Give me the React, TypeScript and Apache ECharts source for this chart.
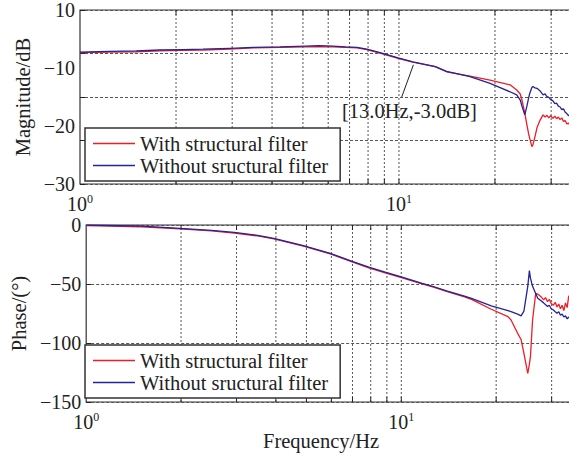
import { useEffect, useRef } from "react";
import * as echarts from "echarts";

const FONT = "'Liberation Serif', 'Times New Roman', serif";

const seriesNames = ["With structural filter", "Without sructural filter"];
const seriesColors = ["#ee1c25", "#23239a"];

// Magnitude response (dB)
const magFreq = [
  1.0, 1.24, 1.5, 1.78, 2.1, 2.43, 2.95, 3.49, 4.24, 5.1, 5.6, 6.2, 6.8, 7.39,
  7.93, 8.72, 9.94, 11.05, 13.0, 14.1, 16.7, 19.3, 22.3, 23.4, 24.0, 24.3, 24.8,
  25.2, 25.5, 25.7, 26.1, 26.3, 26.7, 27.1, 27.7, 28.3, 28.7, 29.1, 29.5, 29.9,
  30.4, 30.8, 31.2, 31.6, 32.0, 32.4, 32.8, 33.2, 33.6, 34.0, 34.5,
];
const magWith = [
  0.2, 0.3, 0.4, 0.6, 0.7, 0.8, 1.0, 1.3, 1.4, 1.5, 1.6, 1.5, 1.4, 1.3,
  0.9, 0.1, -1.1, -2.0, -3.0, -4.2, -5.2, -6.1, -7.2, -8.4, -9.3, -10.7, -13.7,
  -16.5, -18.5, -19.5, -21.4, -21.0, -19.1, -17.0, -15.3, -14.1, -14.6, -14.2, -14.8, -14.3,
  -14.9, -14.4, -15.0, -14.6, -15.2, -14.8, -15.6, -15.4, -16.2, -16.0, -16.7,
];
const magWithout = [
  0.3, 0.5, 0.6, 0.8, 0.9, 1.0, 1.2, 1.4, 1.5, 1.7, 1.8, 1.7, 1.5, 1.4,
  1.0, 0.2, -1.0, -1.9, -3.0, -4.1, -5.3, -6.85, -8.8, -9.5, -10.7, -12.1, -14.1,
  -12.0, -10.2, -9.2, -7.8, -7.6, -7.9, -8.0, -8.6, -9.5, -9.3, -9.9, -10.1, -10.6,
  -10.9, -11.5, -11.4, -12.1, -12.3, -12.9, -12.7, -13.5, -13.8, -14.3, -14.0,
];

// Phase response (degrees)
const phaseFreq = [
  1.0, 1.5, 1.985, 2.5, 2.95, 3.5, 3.94, 4.89, 5.95, 7.02, 7.93, 8.89, 9.94,
  11.65, 12.5, 14.0, 15.87, 16.7, 19.3, 21.8, 22.3, 23.4, 24.0, 24.5, 25.2, 25.5,
  25.7, 26.1, 26.7, 27.1, 27.7, 28.3, 28.7, 29.1, 29.5, 29.9, 30.4, 30.8, 31.2,
  31.6, 32.0, 32.4, 32.8, 33.2, 33.6, 34.0, 34.5,
];
const phaseWith = [
  -0.5, -1.5, -3.3, -5.0, -6.8, -9.3, -11.8, -18.0, -24.5, -31.5, -36.5, -40.5, -44.3,
  -49.9, -52.2, -56.5, -61.0, -63.0, -71.4, -77.7, -80.5, -91.8, -97.0, -108.7, -125.7, -118.0,
  -111.6, -80.5, -57.9, -58.5, -60.5, -63.5, -61.5, -65.0, -63.0, -66.5, -68.0, -65.5, -69.5,
  -67.0, -71.0, -68.0, -72.5, -66.0, -70.0, -60.0, -64.0,
];
const phaseWithout = [
  0.0, -1.0, -2.8, -4.5, -6.3, -8.8, -11.3, -17.5, -24.0, -31.0, -36.0, -40.0, -43.8,
  -49.4, -51.7, -56.0, -60.2, -62.1, -68.6, -72.5, -73.4, -75.5, -77.0, -73.0, -52.0, -38.7,
  -45.0, -52.0, -58.0, -62.0, -64.0, -66.0, -67.5, -69.0, -68.0, -71.0, -72.0, -73.5, -74.8,
  -73.5, -76.5, -75.5, -78.0, -77.0, -79.5, -78.0, -80.5,
];

// Vertical grid frequencies (decade and minor lines)
const gridFreqs = [2, 3, 4, 5, 6, 7, 8, 9, 10, 20, 30];
// Magnitude tick labels, evenly spread down the left edge
const magTickLabels = ["\u221230", "\u221220", "\u221210", "10"];

const annotationText = "[13.0Hz,-3.0dB]";
const arrowTail = [10.2, -10.0];
const arrowHead = [11.1, -2.6];

const zip = (xs: number[], ys: number[]) => xs.map((x, i) => [x, ys[i]]);

const gridLineSeries = (xIdx: number, yMin: number, yMax: number) => ({
  type: "custom",
  xAxisIndex: xIdx,
  yAxisIndex: xIdx,
  silent: true,
  z: 1,
  data: gridFreqs.map((f) => [f, yMin]),
  encode: { x: 0, y: 1 },
  renderItem: (_p: any, api: any) => {
    const f = api.value(0);
    const a = api.coord([f, yMin]);
    const b = api.coord([f, yMax]);
    return {
      type: "group",
      children: [
        {
          type: "line",
          shape: { x1: a[0], y1: a[1], x2: b[0], y2: b[1] },
          style: { stroke: "#555", lineWidth: 1, lineDash: [2, 2] },
        },
        {
          type: "line",
          shape: { x1: a[0], y1: a[1], x2: a[0], y2: a[1] - 5 },
          style: { stroke: "#222", lineWidth: 1 },
        },
        {
          type: "line",
          shape: { x1: b[0], y1: b[1], x2: b[0], y2: b[1] + 5 },
          style: { stroke: "#222", lineWidth: 1 },
        },
      ],
    };
  },
});

const logAxis = (gridIndex: number) => ({
  type: "log",
  logBase: 10,
  gridIndex,
  min: 1,
  max: 40,
  axisLine: { show: false },
  axisTick: { show: false },
  splitLine: { show: false },
  axisLabel: {
    margin: 9,
    showMaxLabel: false,
    formatter: (v: number) => {
      const e = Math.log10(v);
      if (Math.abs(e - Math.round(e)) > 1e-6) return "";
      return `{b|10}{s|${Math.round(e)}}`;
    },
    rich: {
      b: { fontFamily: FONT, fontSize: 20, color: "#222" },
      s: { fontFamily: FONT, fontSize: 12, color: "#222", padding: [0, 0, 10, 0] },
    },
  },
});

const legendFor = (top: number) => ({
  left: 85,
  top,
  orient: "vertical",
  data: seriesNames,
  selectedMode: false,
  icon: "rect",
  itemWidth: 42,
  itemHeight: 1.6,
  itemGap: 1,
  padding: [5, 12, 5, 8],
  borderColor: "#333",
  borderWidth: 1.5,
  backgroundColor: "#fff",
  textStyle: { fontFamily: FONT, fontSize: 20.5, color: "#222", lineHeight: 20 },
});

const lineSeries = (idx: number, axisIdx: number, data: number[][], extra: any = {}) => ({
  type: "line",
  name: seriesNames[idx],
  xAxisIndex: axisIdx,
  yAxisIndex: axisIdx,
  data,
  symbol: "none",
  showSymbol: false,
  z: 3,
  color: seriesColors[idx],
  lineStyle: { color: seriesColors[idx], width: 1.3 },
  ...extra,
});

export default function App() {
  const ref = useRef<HTMLDivElement>(null);

  useEffect(() => {
    if (!ref.current) return;
    const chart = echarts.init(ref.current, undefined, { renderer: "svg" });
    const gridBox = { left: 80, width: 511 };
    chart.setOption({
      animation: false,
      backgroundColor: "#fff",
      textStyle: { fontFamily: FONT },
      grid: [
        { ...gridBox, top: 10, height: 174, show: true, borderColor: "#333", borderWidth: 1.2, backgroundColor: "transparent" },
        { ...gridBox, top: 225, height: 177, show: true, borderColor: "#333", borderWidth: 1.2, backgroundColor: "transparent" },
        { ...gridBox, top: 10, height: 174, show: false },
      ],
      xAxis: [
        logAxis(0),
        logAxis(1),
        { type: "value", gridIndex: 2, min: 0, max: 1, show: false },
      ],
      yAxis: [
        {
          type: "value",
          gridIndex: 0,
          min: -30,
          max: 10,
          interval: 10,
          name: "Magnitude/dB",
          nameLocation: "middle",
          nameGap: 47,
          nameTextStyle: { fontFamily: FONT, fontSize: 20.5, color: "#222" },
          axisLine: { show: false },
          axisLabel: { show: false },
          axisTick: { show: true, inside: true, length: 5, lineStyle: { color: "#222" } },
          splitLine: { show: true, lineStyle: { color: "#555", type: [3, 2], width: 1 } },
        },
        {
          type: "value",
          gridIndex: 1,
          min: -150,
          max: 0,
          interval: 50,
          name: "Phase/(\u00b0)",
          nameLocation: "middle",
          nameGap: 51,
          nameTextStyle: { fontFamily: FONT, fontSize: 20.5, color: "#222" },
          axisLine: { show: false },
          axisLabel: {
            margin: 5,
            fontFamily: FONT,
            fontSize: 20,
            color: "#222",
            formatter: (v: number) => String(v).replace("-", "\u2212"),
          },
          axisTick: { show: true, inside: true, length: 5, lineStyle: { color: "#222" } },
          splitLine: { show: true, lineStyle: { color: "#555", type: [3, 2], width: 1 } },
        },
        {
          type: "value",
          gridIndex: 2,
          min: 0,
          max: 3,
          interval: 1,
          axisLine: { show: false },
          axisTick: { show: false },
          splitLine: { show: false },
          axisLabel: {
            margin: 5,
            fontFamily: FONT,
            fontSize: 20,
            color: "#222",
            formatter: (v: number) => magTickLabels[Math.round(v)] ?? "",
          },
        },
      ],
      legend: [legendFor(128), legendFor(345)],
      series: [
        gridLineSeries(0, -30, 10),
        gridLineSeries(1, -150, 0),
        lineSeries(0, 0, zip(magFreq, magWith)),
        lineSeries(1, 0, zip(magFreq, magWithout), {
          markLine: {
            silent: true,
            symbol: ["none", "arrow"],
            symbolSize: [0, 9],
            label: { show: false },
            lineStyle: { color: "#222", width: 1, type: "solid" },
            data: [[{ coord: arrowTail }, { coord: arrowHead }]],
          },
        }),
        lineSeries(0, 1, zip(phaseFreq, phaseWith)),
        lineSeries(1, 1, zip(phaseFreq, phaseWithout)),
      ],
      graphic: [
        {
          type: "text",
          left: 342,
          top: 100,
          style: { text: annotationText, fontFamily: FONT, fontSize: 20.5, fill: "#222" },
        },
        {
          type: "text",
          left: 263,
          top: 430,
          style: { text: "Frequency/Hz", fontFamily: FONT, fontSize: 20.5, fill: "#222" },
        },
      ],
    });
    return () => chart.dispose();
  }, []);

  return (
    <div
      style={{
        position: "absolute",
        left: 0,
        top: 0,
        width: 569,
        height: 455,
        overflow: "hidden",
        background: "#fff",
      }}
    >
      <div ref={ref} style={{ width: 600, height: 455 }} />
    </div>
  );
}
